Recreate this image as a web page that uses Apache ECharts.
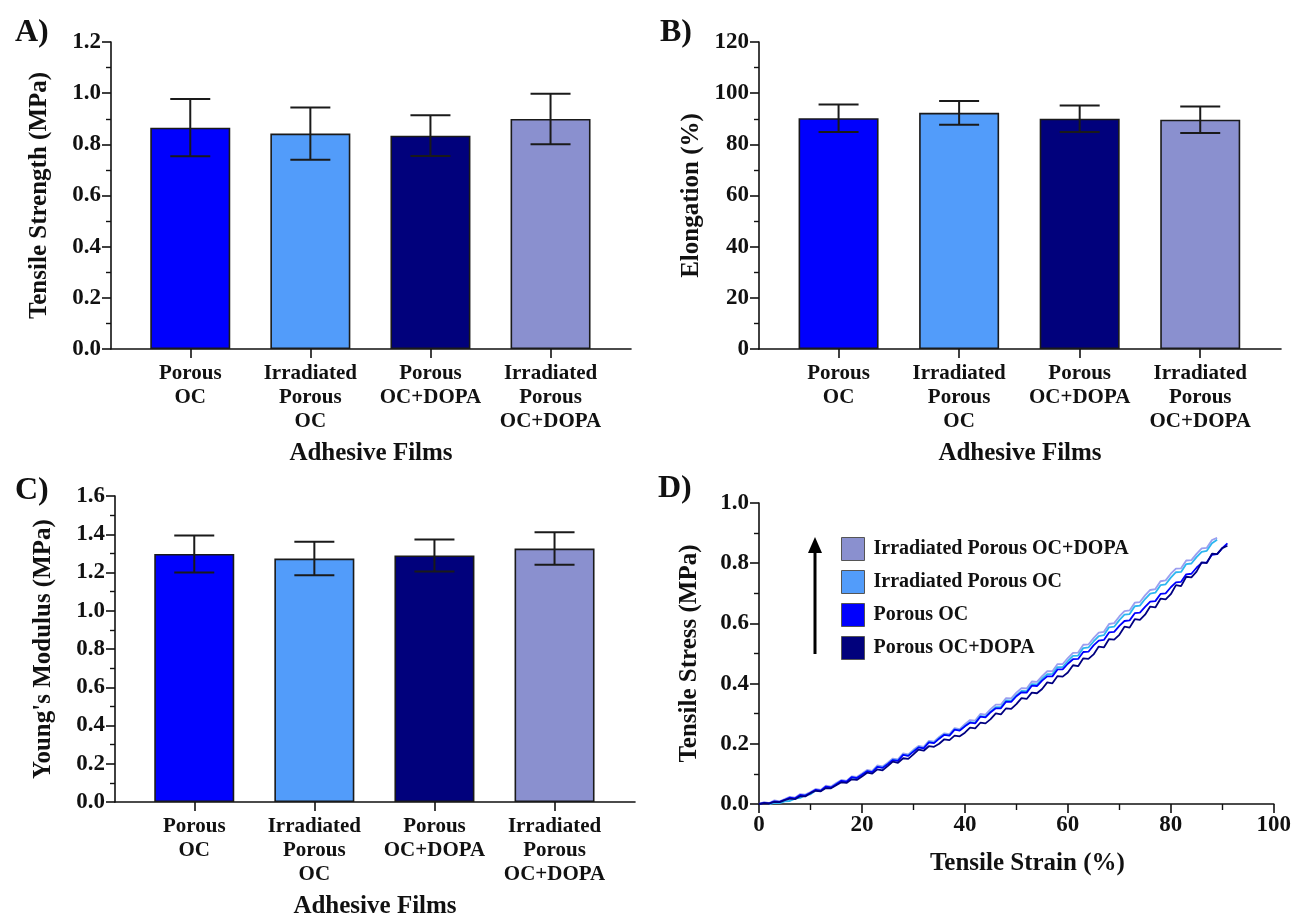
<!DOCTYPE html>
<html><head><meta charset="utf-8">
<script src="https://cdn.jsdelivr.net/npm/echarts@6/dist/echarts.min.js"></script>
<style>html,body{margin:0;padding:0;background:#fff}#chart{width:1294px;height:920px}</style>
</head><body><div id="chart"></div>
<script>
// ---------- data ----------
const categories = ['Porous\nOC', 'Irradiated\nPorous\nOC', 'Porous\nOC+DOPA', 'Irradiated\nPorous\nOC+DOPA'];
const catPositions = [0, 1, 2, 3];

const strengthMean = [0.865, 0.842, 0.834, 0.899];
const strengthErr  = [0.112, 0.102, 0.080, 0.099];

const elongMean = [90.2, 92.3, 90.0, 89.6];
const elongErr  = [5.4, 4.6, 5.2, 5.2];

const modulusMean = [1.297, 1.273, 1.289, 1.325];
const modulusErr  = [0.097, 0.088, 0.084, 0.085];

const curveNames = ['Irradiated Porous OC+DOPA', 'Irradiated Porous OC', 'Porous OC', 'Porous OC+DOPA'];

// strain samples (%), shared by the stress-strain curves
const strain = [0,1,2,3,4,5,6,7,8,9,10,11,12,13,14,15,16,17,18,19,20,21,22,23,24,25,26,27,28,29,30,
  31,32,33,34,35,36,37,38,39,40,41,42,43,44,45,46,47,48,49,50,51,52,53,54,55,56,57,58,59,60,
  61,62,63,64,65,66,67,68,69,70,71,72,73,74,75,76,77,78,79,80,81,82,83,84,85,86,87,88,89,90,91];

const stressIrrOCDopa = [0.000,0.006,0.003,0.012,0.009,0.016,0.024,0.021,0.033,0.031,0.040,0.050,0.047,0.061,0.058,0.070,
  0.080,0.077,0.092,0.090,0.101,0.113,0.110,0.128,0.125,0.137,0.151,0.148,0.168,0.165,0.180,0.193,0.190,0.210,0.207,0.223,
  0.235,0.232,0.252,0.249,0.265,0.279,0.277,0.299,0.297,0.315,0.330,0.330,0.352,0.351,0.370,0.385,0.384,0.407,0.406,0.425,
  0.441,0.441,0.465,0.465,0.485,0.502,0.503,0.529,0.530,0.551,0.569,0.572,0.598,0.601,0.623,0.641,0.643,0.669,0.671,0.693,
  0.711,0.714,0.740,0.743,0.765,0.782,0.783,0.809,0.810,0.831,0.849,0.851,0.877,0.884];

const stressIrrOC = [null,null,0.000,0.004,0.003,0.009,0.010,0.018,0.020,0.030,0.032,0.045,0.043,0.056,0.054,0.066,
  0.076,0.073,0.088,0.086,0.097,0.109,0.106,0.124,0.121,0.133,0.147,0.144,0.164,0.161,0.176,0.189,0.186,0.206,0.203,0.219,
  0.231,0.228,0.248,0.245,0.259,0.272,0.270,0.292,0.290,0.307,0.322,0.322,0.344,0.343,0.361,0.376,0.375,0.398,0.397,0.416,
  0.431,0.432,0.455,0.455,0.475,0.492,0.493,0.518,0.520,0.540,0.558,0.561,0.587,0.589,0.611,0.629,0.631,0.657,0.659,0.681,
  0.699,0.702,0.727,0.730,0.752,0.770,0.771,0.797,0.799,0.820,0.838,0.841,0.866,0.878];

const stressOC = [0.000,0.004,0.002,0.009,0.007,0.014,0.021,0.019,0.030,0.028,0.037,0.047,0.044,0.058,0.055,0.066,
  0.077,0.074,0.089,0.086,0.097,0.109,0.106,0.123,0.120,0.132,0.146,0.143,0.163,0.160,0.174,0.188,0.185,0.205,0.202,0.217,
  0.230,0.227,0.247,0.244,0.258,0.270,0.268,0.290,0.288,0.305,0.318,0.318,0.340,0.339,0.358,0.371,0.370,0.393,0.392,0.410,
  0.424,0.424,0.447,0.447,0.466,0.481,0.482,0.505,0.506,0.527,0.543,0.545,0.570,0.572,0.592,0.608,0.610,0.634,0.636,0.655,
  0.672,0.674,0.698,0.700,0.720,0.736,0.738,0.763,0.765,0.785,0.801,0.803,0.828,0.830,0.850,0.866];

const stressOCDopa = [0.000,0.003,0.002,0.007,0.006,0.013,0.018,0.016,0.026,0.025,0.036,0.044,0.042,0.053,0.052,0.062,
  0.072,0.070,0.082,0.080,0.091,0.104,0.101,0.115,0.112,0.126,0.141,0.137,0.152,0.150,0.165,0.181,0.177,0.192,0.190,0.200,
  0.215,0.212,0.227,0.225,0.237,0.254,0.251,0.270,0.268,0.282,0.301,0.298,0.318,0.316,0.332,0.352,0.349,0.370,0.368,0.382,
  0.404,0.401,0.425,0.423,0.437,0.461,0.458,0.484,0.482,0.497,0.523,0.520,0.548,0.546,0.562,0.589,0.586,0.614,0.612,0.629,
  0.656,0.653,0.682,0.680,0.697,0.727,0.724,0.755,0.753,0.772,0.803,0.800,0.832,0.830,0.850,0.858];

// ---------- styles ----------
const FONT = '"Liberation Serif", "Times New Roman", serif';
const INK = '#111';
const barColors = ['#0000fd', '#529cfa', '#01017c', '#8a90cf'];
const legendColors = ['#8a90cf', '#529cfa', '#0000fd', '#01017c'];
const lineColors = ['#9a9ef0', '#2cb6f0', '#0000ff', '#000080'];

const grids = [
  {left: 111, top: 42, width: 520, height: 307},
  {left: 759, top: 42, width: 522, height: 307},
  {left: 115, top: 496, width: 520, height: 308},
  {left: 759, top: 503, width: 518, height: 301}
];

function labelStyle(size) {
  return {fontFamily: FONT, fontWeight: 'bold', fontSize: size, color: INK};
}
const axisLine = {show: true, onZero: false, lineStyle: {color: INK, width: 1.6}};

function catXAxis(gi) {
  return {
    gridIndex: gi, type: 'value', min: -0.66, max: 3.67,
    axisLine: axisLine,
    splitLine: {show: false},
    axisTick: {show: true, customValues: catPositions, length: 9, lineStyle: {color: INK, width: 1.6}},
    axisLabel: Object.assign(labelStyle(21), {customValues: catPositions, margin: 13, lineHeight: 24,
      formatter: v => categories[Math.round(v)] || ''}),
    name: 'Adhesive Films', nameLocation: 'middle', nameGap: 92,
    nameTextStyle: labelStyle(25)
  };
}
function valYAxis(gi, max, interval, digits, name, gap) {
  return {
    gridIndex: gi, type: 'value', min: 0, max: max, interval: interval,
    axisLine: axisLine,
    splitLine: {show: false},
    axisTick: {show: true, length: 9, lineStyle: {color: INK, width: 1.6}},
    minorTick: {show: true, splitNumber: 2, length: 5, lineStyle: {color: INK, width: 1.4}},
    axisLabel: Object.assign(labelStyle(23), {margin: 10, formatter: v => v.toFixed(digits)}),
    name: name, nameLocation: 'middle', nameGap: gap,
    nameTextStyle: labelStyle(25)
  };
}
function barSeries(gi, mean) {
  return {
    type: 'bar', xAxisIndex: gi, yAxisIndex: gi, barWidth: 80, z: 2,
    data: mean.map((v, i) => ({value: [catPositions[i], v], itemStyle: {color: barColors[i]}})),
    itemStyle: {borderColor: '#1a1a1a', borderWidth: 1.6},
    silent: true
  };
}
function errorSeries(gi, mean, err) {
  return {
    type: 'custom', xAxisIndex: gi, yAxisIndex: gi, z: 5, silent: true,
    data: mean.map((m, i) => [catPositions[i], m - err[i], m + err[i]]),
    encode: {x: 0, y: [1, 2]},
    renderItem: function (params, api) {
      const x = api.value(0);
      const lo = api.coord([x, api.value(1)]);
      const hi = api.coord([x, api.value(2)]);
      const hw = 20;
      const style = {stroke: '#1a1a1a', lineWidth: 2};
      return {type: 'group', children: [
        {type: 'line', shape: {x1: hi[0], y1: hi[1], x2: lo[0], y2: lo[1]}, style: style},
        {type: 'line', shape: {x1: hi[0] - hw, y1: hi[1], x2: hi[0] + hw, y2: hi[1]}, style: style},
        {type: 'line', shape: {x1: lo[0] - hw, y1: lo[1], x2: lo[0] + hw, y2: lo[1]}, style: style}
      ]};
    }
  };
}
function curve(name, values, color) {
  const pts = [];
  values.forEach((v, i) => { if (v !== null && v !== undefined) pts.push([strain[i], v]); });
  return {
    type: 'line', name: name, xAxisIndex: 3, yAxisIndex: 3, showSymbol: false, symbol: 'none',
    data: pts, lineStyle: {color: color, width: 1.8}, itemStyle: {color: color}, silent: true
  };
}

const option = {
  animation: false,
  backgroundColor: '#fff',
  grid: grids,
  title: [
    {text: 'A)', left: 10, top: 12, textStyle: labelStyle(32)},
    {text: 'B)', left: 655, top: 12, textStyle: labelStyle(32)},
    {text: 'C)', left: 10, top: 470, textStyle: labelStyle(32)},
    {text: 'D)', left: 653, top: 468, textStyle: labelStyle(32)}
  ],
  xAxis: [
    catXAxis(0), catXAxis(1), catXAxis(2),
    {
      gridIndex: 3, type: 'value', min: 0, max: 100, interval: 20,
      axisLine: axisLine, splitLine: {show: false},
      axisTick: {show: true, length: 9, lineStyle: {color: INK, width: 1.6}},
      minorTick: {show: true, splitNumber: 2, length: 6, lineStyle: {color: INK, width: 1.4}},
      axisLabel: Object.assign(labelStyle(23), {margin: 10}),
      name: 'Tensile Strain (%)', nameLocation: 'middle', nameGap: 47,
      nameTextStyle: Object.assign(labelStyle(25), {padding: [0, 0, 0, 22]})
    }
  ],
  yAxis: [
    valYAxis(0, 1.2, 0.2, 1, 'Tensile Strength (MPa)', 59),
    valYAxis(1, 120, 20, 0, 'Elongation (%)', 55),
    valYAxis(2, 1.6, 0.2, 1, "Young's Modulus (MPa)", 59),
    valYAxis(3, 1.0, 0.2, 1, 'Tensile Stress (MPa)', 57)
  ],
  legend: {
    orient: 'vertical', left: 841, top: 537, padding: 0, itemWidth: 23, itemHeight: 23, itemGap: 9,
    icon: 'rect', selectedMode: false,
    itemStyle: {borderColor: '#555', borderWidth: 1},
    textStyle: Object.assign(labelStyle(20), {padding: [0, 0, 0, 4]}),
    data: curveNames.map((n, i) => ({name: n, itemStyle: {color: legendColors[i]}}))
  },
  graphic: [
    {type: 'line', shape: {x1: 815, y1: 654, x2: 815, y2: 550}, style: {stroke: '#000', lineWidth: 3}},
    {type: 'polygon', shape: {points: [[808, 553], [822, 553], [815, 537]]}, style: {fill: '#000'}}
  ],
  series: [
    barSeries(0, strengthMean), errorSeries(0, strengthMean, strengthErr),
    barSeries(1, elongMean), errorSeries(1, elongMean, elongErr),
    barSeries(2, modulusMean), errorSeries(2, modulusMean, modulusErr),
    curve(curveNames[0], stressIrrOCDopa, lineColors[0]),
    curve(curveNames[1], stressIrrOC, lineColors[1]),
    curve(curveNames[2], stressOC, lineColors[2]),
    curve(curveNames[3], stressOCDopa, lineColors[3])
  ]
};
const chart = echarts.init(document.getElementById('chart'), null, {renderer: 'canvas'});
chart.setOption(option);
</script></body></html>
